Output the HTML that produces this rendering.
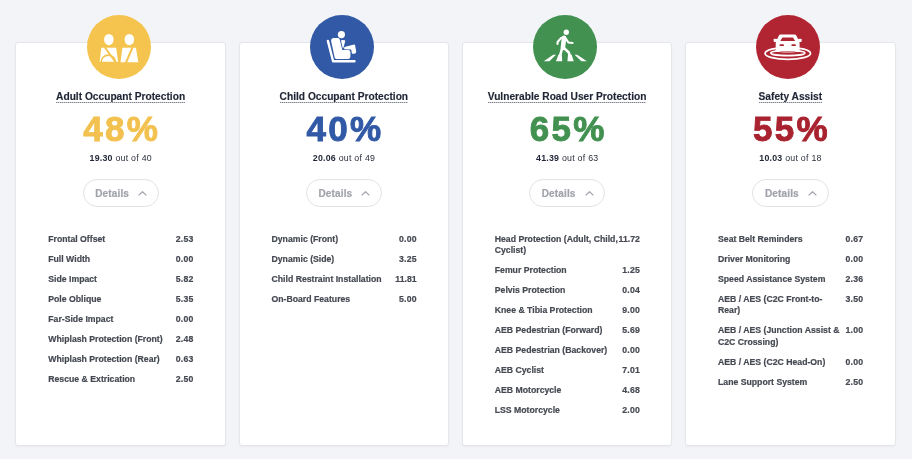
<!DOCTYPE html>
<html><head><meta charset="utf-8"><style>
*{box-sizing:border-box;margin:0;padding:0}
html,body{width:912px;height:459px;overflow:hidden;background:#f3f4f7;font-family:"Liberation Sans",sans-serif}
body{filter:blur(0.3px)}
.card{position:absolute;top:42.1px;width:210.7px;height:404.1px;background:#fff;border:1px solid #e4e6ea;border-radius:3px;box-shadow:0 1px 2px rgba(0,0,0,0.04)}
.icon{position:absolute;top:14.6px;width:64px;height:64px;border-radius:50%}
.icon svg{position:absolute;left:0;top:0}
.title{position:absolute;left:0;width:100%;text-align:center;top:91.0px;font-size:10.2px;font-weight:700;color:#1f2535;line-height:12px;white-space:nowrap}
.title span{position:relative;-webkit-text-stroke:0.15px #1f2535}
.title span:after{content:'';position:absolute;left:0;right:0;bottom:-0.9px;height:1px;background:repeating-linear-gradient(90deg,#80848f 0 1.2px,#c3c6cc 1.2px 2px)}
.pct{position:absolute;left:0;width:100%;text-align:center;top:110.0px;font-size:35px;font-weight:700;line-height:38px;white-space:nowrap;letter-spacing:2.2px;text-indent:2.2px;-webkit-text-stroke:0.9px currentColor}
.score{position:absolute;left:0;width:100%;text-align:center;top:152.7px;font-size:8.8px;color:#2a2f3d;line-height:10px;white-space:nowrap;letter-spacing:0.25px;text-indent:0.25px}
.score b{color:#1f2535}
.btn{position:absolute;top:178.5px;width:76.4px;height:28.3px;border:1px solid #e2e3e7;border-radius:14.2px}
.btn .lbl{position:absolute;left:11.6px;top:8.2px;font-size:10px;font-weight:700;color:#a0a3ab;letter-spacing:0.15px;-webkit-text-stroke:0.2px #a0a3ab;line-height:12px}
.btn svg{position:absolute;left:54.6px;top:11.6px}
.rows{position:absolute;left:33px;right:32.6px;top:233.9px}
.row{display:flex;justify-content:space-between;font-size:8.7px;font-weight:700;color:#454952;line-height:11.6px;margin-bottom:8.4px;white-space:nowrap;-webkit-text-stroke:0.2px #454952}
.row .v{text-align:right;letter-spacing:0.25px;margin-right:-0.25px}
</style></head><body>

<div class="card" style="left:15.25px"></div>
<div class="icon" style="left:86.70px;background:#f4c44e"><svg viewBox="0 0 64 64" width="64" height="64">
<ellipse cx="21.85" cy="24.55" rx="4.75" ry="5.6" fill="#fff"/><ellipse cx="42.35" cy="24.55" rx="4.75" ry="5.6" fill="#fff"/>
<path d="M14.35 32.7 L29.2 32.7 L31.1 46.8 L12.6 46.8 Z" fill="#fff"/>
<path d="M35.4 32.7 L48.9 32.7 L51.3 47.3 L33.5 47.3 Z" fill="#fff"/>
<path d="M17.8 32.2 L28.6 47.3" stroke="#f4c44e" stroke-width="1.9" fill="none"/>
<path d="M45.6 32.2 L38.9 47.8" stroke="#f4c44e" stroke-width="2.1" fill="none"/>
<path d="M14.1 47.3 A7.2 7.2 0 0 1 28.5 47.3" stroke="#f4c44e" stroke-width="1.6" fill="none"/>
</svg></div>
<div class="cardc" style="position:absolute;left:15.25px;top:0px;width:210.7px;height:459px">
<div class="title"><span>Adult Occupant Protection</span></div>
<div class="pct" style="color:#f2c14f">48%</div>
<div class="score"><b>19.30</b> out of 40</div>
<div class="btn" style="left:67.35px"><span class="lbl">Details</span><svg width="9" height="5" viewBox="0 0 9 5"><path d="M0.6 4.4 L4.5 0.7 L8.4 4.4" fill="none" stroke="#a0a3ab" stroke-width="1.2"/></svg></div>
<div class="rows">
<div class="row"><span class="l">Frontal Offset</span><span class="v">2.53</span></div>
<div class="row"><span class="l">Full Width</span><span class="v">0.00</span></div>
<div class="row"><span class="l">Side Impact</span><span class="v">5.82</span></div>
<div class="row"><span class="l">Pole Oblique</span><span class="v">5.35</span></div>
<div class="row"><span class="l">Far-Side Impact</span><span class="v">0.00</span></div>
<div class="row"><span class="l">Whiplash Protection (Front)</span><span class="v">2.48</span></div>
<div class="row"><span class="l">Whiplash Protection (Rear)</span><span class="v">0.63</span></div>
<div class="row"><span class="l">Rescue &amp; Extrication</span><span class="v">2.50</span></div>
</div></div>
<div class="card" style="left:238.50px"></div>
<div class="icon" style="left:309.95px;background:#3159a6"><svg viewBox="0 0 64 64" width="64" height="64">
<circle cx="31.4" cy="19.6" r="3.6" fill="#fff"/>
<path d="M17.9 25.9 L23.1 46.3 L44.5 46.3" stroke="#fff" stroke-width="2.4" fill="none" stroke-linecap="round" stroke-linejoin="round"/>
<path d="M21.1 25.9 Q21.1 23.1 23.8 23.0 L28.0 23.0 Q29.5 23.1 29.8 24.7 L32.3 34.9 L38.6 34.9 Q40.4 35.1 40.4 37 L40.4 42.1 Q40.2 43.9 38.6 43.9 L26.2 43.9 Q25 43.9 24.7 42.8 Z" fill="#fff"/>
<path d="M31.0 25.6 Q31.2 25.1 32 25.1 L34.8 25.2 Q35.5 25.5 35.2 26.3 L33.4 32.9 Q33.0 33.5 32.6 32.8 Z" fill="#fff"/>
<path d="M34.4 32.1 L44.1 29.6 Q44.9 29.5 45.1 30.3 L46.2 36.6 Q46.3 38.6 44.6 38.7 L42.7 38.7 Q41.8 38.6 41.7 37.7 L41.4 35.2 Q41.3 34.5 40.5 34.4 L34.1 34.3 Z" fill="#fff"/>
</svg></div>
<div class="cardc" style="position:absolute;left:238.50px;top:0px;width:210.7px;height:459px">
<div class="title"><span>Child Occupant Protection</span></div>
<div class="pct" style="color:#3159a6">40%</div>
<div class="score"><b>20.06</b> out of 49</div>
<div class="btn" style="left:67.35px"><span class="lbl">Details</span><svg width="9" height="5" viewBox="0 0 9 5"><path d="M0.6 4.4 L4.5 0.7 L8.4 4.4" fill="none" stroke="#a0a3ab" stroke-width="1.2"/></svg></div>
<div class="rows">
<div class="row"><span class="l">Dynamic (Front)</span><span class="v">0.00</span></div>
<div class="row"><span class="l">Dynamic (Side)</span><span class="v">3.25</span></div>
<div class="row"><span class="l">Child Restraint Installation</span><span class="v" style="letter-spacing:0;margin-right:0">11.81</span></div>
<div class="row"><span class="l">On-Board Features</span><span class="v">5.00</span></div>
</div></div>
<div class="card" style="left:461.75px"></div>
<div class="icon" style="left:533.20px;background:#429150"><svg viewBox="0 0 64 64" width="64" height="64">
<circle cx="33.3" cy="17.3" r="2.7" fill="#fff"/>
<g stroke="#fff" fill="none" stroke-linecap="round" stroke-linejoin="round">
<path d="M28.2 22.9 L24.6 27.0 L24.5 29.0" stroke-width="2.1"/>
<path d="M32.2 22.6 L35.3 27.4 L39.6 27.9" stroke-width="2.0"/>
<path d="M31.0 22.9 L29.9 33.0" stroke-width="4.6"/>
<path d="M29.2 33 L27.2 40.2" stroke-width="2.6"/>
<path d="M30.8 33 L35.6 37.2 L37.0 41" stroke-width="2.6"/>
</g>
<path d="M20.2 39.8 L23.0 39.8 L16.4 46.3 L10.8 46.3 Z" fill="#fff"/>
<path d="M25.4 39.8 L28.8 39.8 L29.2 46.3 L23.0 46.3 Z" fill="#fff"/>
<path d="M35.0 39.8 L38.6 39.8 L40.8 46.3 L34.4 46.3 Z" fill="#fff"/>
<path d="M41.6 39.8 L44.2 39.8 L53.9 46.3 L48.4 46.3 Z" fill="#fff"/>
</svg></div>
<div class="cardc" style="position:absolute;left:461.75px;top:0px;width:210.7px;height:459px">
<div class="title"><span>Vulnerable Road User Protection</span></div>
<div class="pct" style="color:#429150">65%</div>
<div class="score"><b>41.39</b> out of 63</div>
<div class="btn" style="left:67.35px"><span class="lbl">Details</span><svg width="9" height="5" viewBox="0 0 9 5"><path d="M0.6 4.4 L4.5 0.7 L8.4 4.4" fill="none" stroke="#a0a3ab" stroke-width="1.2"/></svg></div>
<div class="rows">
<div class="row"><span class="l">Head Protection (Adult, Child,<br>Cyclist)</span><span class="v" style="letter-spacing:0;margin-right:0">11.72</span></div>
<div class="row"><span class="l">Femur Protection</span><span class="v">1.25</span></div>
<div class="row"><span class="l">Pelvis Protection</span><span class="v">0.04</span></div>
<div class="row"><span class="l">Knee &amp; Tibia Protection</span><span class="v">9.00</span></div>
<div class="row"><span class="l">AEB Pedestrian (Forward)</span><span class="v">5.69</span></div>
<div class="row"><span class="l">AEB Pedestrian (Backover)</span><span class="v">0.00</span></div>
<div class="row"><span class="l">AEB Cyclist</span><span class="v">7.01</span></div>
<div class="row"><span class="l">AEB Motorcycle</span><span class="v">4.68</span></div>
<div class="row"><span class="l">LSS Motorcycle</span><span class="v">2.00</span></div>
</div></div>
<div class="card" style="left:685.00px"></div>
<div class="icon" style="left:756.45px;background:#b12532"><svg viewBox="0 0 64 64" width="64" height="64">
<ellipse cx="31.8" cy="38.4" rx="22.7" ry="6.0" stroke="#fff" stroke-width="1.7" fill="none"/>
<ellipse cx="31.8" cy="38.0" rx="17.0" ry="2.7" stroke="#fff" stroke-width="1.7" fill="none"/>
<path d="M24.2 19.6 L39.0 19.6 Q40.0 19.7 40.6 21.0 L43.2 26.6 Q43.6 27.6 43.6 29 L43.6 36.3 Q43.6 36.9 43 36.9 L39.9 36.9 Q39.3 36.9 39.3 36.3 L39.3 35.4 L24.0 35.4 L24.0 36.3 Q24.0 36.9 23.4 36.9 L20.3 36.9 Q19.7 36.9 19.7 36.3 L19.7 29 Q19.7 27.6 20.1 26.6 L22.6 21.0 Q23.2 19.7 24.2 19.6 Z" fill="#fff"/>
<path d="M17.6 24.5 Q17.6 23.7 18.5 23.7 L21.4 23.9 L20.6 27.0 L18.5 27.0 Q17.6 26.9 17.6 26.1 Z" fill="#fff"/>
<path d="M45.7 24.5 Q45.7 23.7 44.8 23.7 L41.9 23.9 L42.7 27.0 L44.8 27.0 Q45.7 26.9 45.7 26.1 Z" fill="#fff"/>
<path d="M26.4 22.4 L37.0 22.4 L39.1 25.9 L24.3 25.9 Z" fill="#b12532"/>
<rect x="23.5" y="29.2" width="4.5" height="1.9" rx="0.9" fill="#b12532"/>
<rect x="35.4" y="29.2" width="4.5" height="1.9" rx="0.9" fill="#b12532"/>
<ellipse cx="31.8" cy="37.2" rx="7.5" ry="0.8" fill="rgba(255,255,255,0.45)"/>
</svg></div>
<div class="cardc" style="position:absolute;left:685.00px;top:0px;width:210.7px;height:459px">
<div class="title"><span>Safety Assist</span></div>
<div class="pct" style="color:#a8232f">55%</div>
<div class="score"><b>10.03</b> out of 18</div>
<div class="btn" style="left:67.35px"><span class="lbl">Details</span><svg width="9" height="5" viewBox="0 0 9 5"><path d="M0.6 4.4 L4.5 0.7 L8.4 4.4" fill="none" stroke="#a0a3ab" stroke-width="1.2"/></svg></div>
<div class="rows">
<div class="row"><span class="l">Seat Belt Reminders</span><span class="v">0.67</span></div>
<div class="row"><span class="l">Driver Monitoring</span><span class="v">0.00</span></div>
<div class="row"><span class="l">Speed Assistance System</span><span class="v">2.36</span></div>
<div class="row"><span class="l">AEB / AES (C2C Front-to-<br>Rear)</span><span class="v">3.50</span></div>
<div class="row"><span class="l">AEB / AES (Junction Assist &amp;<br>C2C Crossing)</span><span class="v">1.00</span></div>
<div class="row"><span class="l">AEB / AES (C2C Head-On)</span><span class="v">0.00</span></div>
<div class="row"><span class="l">Lane Support System</span><span class="v">2.50</span></div>
</div></div>
</body></html>
